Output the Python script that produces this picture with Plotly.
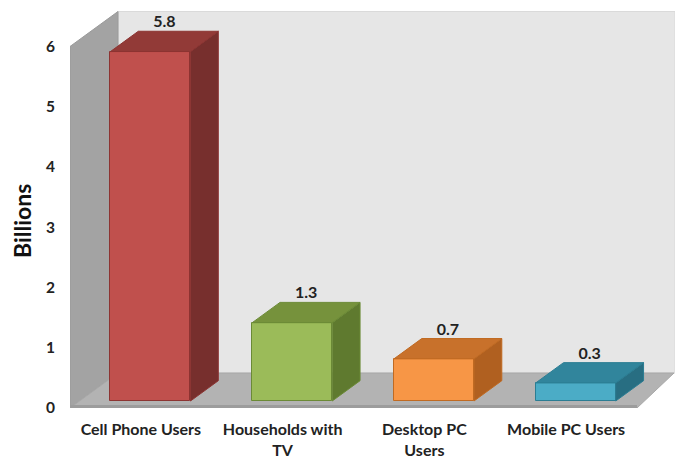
import plotly.graph_objects as go

# ---- data -------------------------------------------------------------
categories = ["Cell Phone Users", "Households with<br>TV", "Desktop PC<br>Users", "Mobile PC Users"]
values = [5.8, 1.3, 0.7, 0.3]
value_labels = ["5.8", "1.3", "0.7", "0.3"]
y_ticks = [0, 1, 2, 3, 4, 5, 6]

front_colors = ["#C0504D", "#9BBB59", "#F79646", "#4BACC6"]
top_colors = ["#923A37", "#76923C", "#C8712B", "#31859C"]
side_colors = ["#772F2D", "#5F7A2F", "#B06020", "#286E82"]
edge_colors = ["#8C3432", "#6B8A36", "#C06A22", "#2B7D93"]

# ---- oblique projection used for the pseudo-3D look -------------------
# one unit of depth moves a point right (in category units) and up (in value units)
DX = 48 / 141.75
DY = 35 / 60.25
DX_RIGHT = 37 / 141.75      # right edge of the floor recedes a bit less (perspective)
WALL_TOP = 6
X_MAX = 605 / 141.75
Y_MAX = 408 / 60.25

BAR_W = 80 / 141.75
FRONT_D = 0.2               # depth of the bars' front faces
BACK_D = 0.78               # depth of the bars' back faces


def proj(x, v, d):
    return x + d * DX, v + d * DY


def path(points):
    return "M " + " L ".join(f"{x},{y}" for x, y in points) + " Z"


fig = go.Figure()

# walls and floor
n = len(categories)
back_wall = [proj(0, 0, 1), (X_MAX, DY), (X_MAX, WALL_TOP + DY), proj(0, WALL_TOP, 1)]
left_wall = [proj(0, 0, 0), proj(0, WALL_TOP, 0), proj(0, WALL_TOP, 1), proj(0, 0, 1)]
floor = [proj(0, 0, 0), (n, 0), (n + DX_RIGHT, DY), proj(0, 0, 1)]

shapes = [
    dict(type="path", path=path(back_wall), fillcolor="#E6E6E6",
         line=dict(color="#DADADA", width=1), layer="below", xref="x", yref="y"),
    dict(type="path", path=path(left_wall), fillcolor="#A3A3A3",
         line=dict(color="#9A9A9A", width=1), layer="below", xref="x", yref="y"),
    dict(type="path", path=path(floor), fillcolor="#B3B3B3",
         line=dict(color="#A8A8A8", width=1), layer="below", xref="x", yref="y"),
    dict(type="line", x0=0, x1=n, y0=0.025, y1=0.025, xref="x", yref="y",
         line=dict(color="#9C9C9C", width=3), layer="below"),
]

# front faces of the bars
centers = [i + 0.5 + FRONT_D * DX for i in range(n)]
fig.add_trace(go.Bar(
    x=centers, y=values, base=[FRONT_D * DY] * n, width=BAR_W,
    marker=dict(color=front_colors, line=dict(color=edge_colors, width=1)),
    hoverinfo="skip", showlegend=False,
))

# top and side faces
depth = BACK_D - FRONT_D
for i, v in enumerate(values):
    xl = centers[i] - BAR_W / 2
    xr = centers[i] + BAR_W / 2
    y0 = FRONT_D * DY
    y1 = y0 + v
    ox, oy = depth * DX, depth * DY
    top = [(xl, y1), (xr, y1), (xr + ox, y1 + oy), (xl + ox, y1 + oy), (xl, y1)]
    side = [(xr, y0), (xr, y1), (xr + ox, y1 + oy), (xr + ox, y0 + oy), (xr, y0)]
    for poly, col in ((side, side_colors[i]), (top, top_colors[i])):
        fig.add_trace(go.Scatter(
            x=[p[0] for p in poly], y=[p[1] for p in poly], mode="lines",
            fill="toself", fillcolor=col, line=dict(color=edge_colors[i], width=1),
            hoverinfo="skip", showlegend=False,
        ))

# value labels above each bar
fig.add_trace(go.Scatter(
    x=[c + depth * DX / 2 for c in centers],
    y=[FRONT_D * DY + v + depth * DY for v in values],
    mode="text", text=value_labels, textposition="top center",
    textfont=dict(family="Lato", size=16, color="#222222", weight="bold"),
    hoverinfo="skip", showlegend=False, cliponaxis=False,
))

cat_font = dict(family="Lato", size=16, color="#222222", weight="bold")
tick_font = dict(family="Lato", size=15.5, color="#222222", weight="bold")

fig.update_layout(
    width=675, height=461,
    margin=dict(l=70, r=0, t=0, b=53),
    paper_bgcolor="white", plot_bgcolor="white",
    shapes=shapes,
    bargap=0,
    xaxis=dict(range=[0, X_MAX], tickvals=[i + 0.5 for i in range(n)],
               ticktext=categories, tickfont=cat_font, showgrid=False,
               zeroline=False, showline=False, ticks="", ticklabelstandoff=10,
               automargin=False, fixedrange=True),
    yaxis=dict(range=[0, Y_MAX], tickvals=y_ticks, tickfont=tick_font,
               showgrid=False, zeroline=False, showline=False, ticks="",
               ticklabelstandoff=14, automargin=False, fixedrange=True),
    annotations=[dict(text="Billions", textangle=-90, xref="paper", yref="paper",
                      x=(22 - 70) / 605, y=(408 - 221) / 408,
                      xanchor="center", yanchor="middle", showarrow=False,
                      font=dict(family="Lato", size=23, color="#111111", weight="bold"))],
)

fig.write_html("out.html")
